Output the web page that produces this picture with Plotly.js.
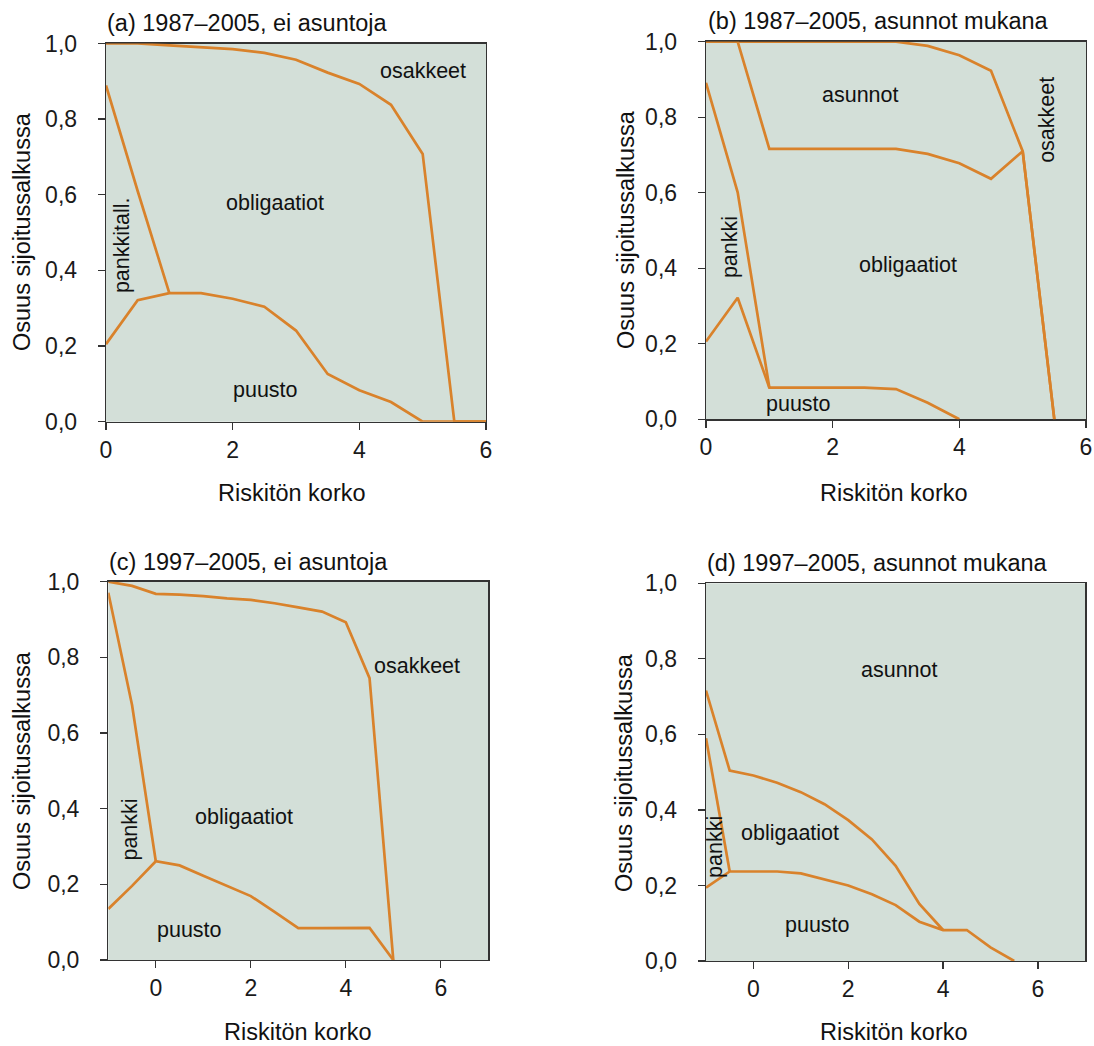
<!DOCTYPE html>
<html>
<head>
<meta charset="utf-8">
<script src="https://cdn.plot.ly/plotly-3.0.1.min.js"></script>
<style>
html,body{margin:0;padding:0;background:#ffffff;}
#chart{width:1094px;height:1046px;}
</style>
</head>
<body>
<div id="chart"></div>
<script>
// ---------- DATA (upper edges of the cumulative shares) ----------
// (a) 1987–2005, ei asuntoja
const xA = [0, 0.5, 1, 1.5, 2, 2.5, 3, 3.5, 4, 4.5, 5, 5.5, 6];
const aPuusto      = [0.205, 0.321, 0.340, 0.340, 0.325, 0.304, 0.241, 0.126, 0.083, 0.052, 0, 0, 0];
const aPankki      = [0.889, 0.610, 0.340, null, null, null, null, null, null, null, null, null, null];
const aObligaatiot = [1.000, 1.000, 0.995, 0.990, 0.985, 0.975, 0.957, 0.923, 0.893, 0.838, 0.708, 0, 0];

// (b) 1987–2005, asunnot mukana
const xB = [0, 0.5, 1, 1.5, 2, 2.5, 3, 3.5, 4, 4.5, 5, 5.5];
const bPuusto      = [0.206, 0.322, 0.084, 0.084, 0.084, 0.084, 0.080, 0.044, 0, null, null, null];
const bPankki      = [0.891, 0.601, 0.084, null, null, null, null, null, null, null, null, null];
const bObligaatiot = [1.000, 1.000, 0.716, 0.716, 0.716, 0.716, 0.716, 0.703, 0.678, 0.637, 0.710, 0];
const bAsunnot     = [1.000, 1.000, 1.000, 1.000, 1.000, 1.000, 1.000, 0.989, 0.964, 0.923, 0.710, 0];

// (c) 1997–2005, ei asuntoja
const xC = [-1, -0.5, 0, 0.5, 1, 1.5, 2, 2.5, 3, 3.5, 4, 4.5, 5];
const cPuusto      = [0.135, 0.196, 0.261, 0.250, 0.223, 0.196, 0.169, 0.127, 0.084, 0.084, 0.084, 0.085, 0];
const cPankki      = [0.971, 0.674, 0.261, null, null, null, null, null, null, null, null, null, null];
const cObligaatiot = [1.000, 0.989, 0.968, 0.966, 0.962, 0.956, 0.952, 0.943, 0.932, 0.921, 0.893, 0.745, 0];

// (d) 1997–2005, asunnot mukana
const xD = [-1, -0.5, 0, 0.5, 1, 1.5, 2, 2.5, 3, 3.5, 4, 4.5, 5, 5.5];
const dPuusto      = [0.194, 0.237, 0.237, 0.237, 0.232, 0.217, 0.200, 0.177, 0.148, 0.104, 0.082, 0.082, 0.036, 0];
const dPankki      = [0.590, 0.237, null, null, null, null, null, null, null, null, null, null, null, null];
const dObligaatiot = [0.716, 0.504, 0.491, 0.472, 0.447, 0.415, 0.373, 0.322, 0.252, 0.151, 0.082, null, null, null];

// ticks and texts
const yTicks = [0, 0.2, 0.4, 0.6, 0.8, 1.0];
const xTicks = [0, 2, 4, 6];
const panelTitles = ['(a) 1987–2005, ei asuntoja', '(b) 1987–2005, asunnot mukana',
                     '(c) 1997–2005, ei asuntoja', '(d) 1997–2005, asunnot mukana'];
const xTitle = 'Riskitön korko';
const yTitle = 'Osuus sijoitussalkussa';

// ---------- STYLE ----------
const W = 1094, H = 1046;
const FONT = 'Liberation Sans, Arial, Helvetica, sans-serif';
const ORANGE = '#d9822b';
const BG = '#d3dfd8';
const px = v => v / W;
const py = v => 1 - v / H;

function line(x, y, xa, ya) {
  return {x: x, y: y, xaxis: xa, yaxis: ya, type: 'scatter', mode: 'lines',
          line: {color: ORANGE, width: 2.7}, connectgaps: false,
          hoverinfo: 'skip', showlegend: false};
}

const traces = [
  line(xA, aPuusto, 'x', 'y'), line(xA, aPankki, 'x', 'y'), line(xA, aObligaatiot, 'x', 'y'),
  line(xB, bPuusto, 'x2', 'y2'), line(xB, bPankki, 'x2', 'y2'), line(xB, bObligaatiot, 'x2', 'y2'), line(xB, bAsunnot, 'x2', 'y2'),
  line(xC, cPuusto, 'x3', 'y3'), line(xC, cPankki, 'x3', 'y3'), line(xC, cObligaatiot, 'x3', 'y3'),
  line(xD, dPuusto, 'x4', 'y4'), line(xD, dPankki, 'x4', 'y4'), line(xD, dObligaatiot, 'x4', 'y4')
];

const axBase = {
  showgrid: false, zeroline: false, showline: true, linecolor: '#333333', linewidth: 1.3,
  mirror: true, ticks: 'outside', ticklen: 7, tickwidth: 1.3, tickcolor: '#333333',
  tickfont: {family: FONT, size: 23, color: '#1a1a1a'}, layer: 'below traces', fixedrange: true
};
function xax(domain, range, anchor) {
  return Object.assign({}, axBase, {domain: domain, range: range, anchor: anchor,
    tickmode: 'array', tickvals: xTicks, ticktext: xTicks.map(String)});
}
function yax(domain, anchor) {
  return Object.assign({}, axBase, {domain: domain, range: [0, 1], anchor: anchor,
    tickmode: 'array', tickvals: yTicks, tickformat: '.1f', ticklabelstandoff: 16});
}

const annFont = {family: FONT, size: 21.5, color: '#111111'};
const bigFont = {family: FONT, size: 23.5, color: '#111111'};
function lab(text, xref, yref, x, y, rot) {
  return {text: text, xref: xref, yref: yref, x: x, y: y, showarrow: false,
          font: annFont, textangle: rot || 0, xanchor: 'center', yanchor: 'middle'};
}
function pap(text, x, y, opts) {
  return Object.assign({text: text, xref: 'paper', yref: 'paper', x: px(x), y: py(y),
          showarrow: false, font: bigFont, xanchor: 'center', yanchor: 'middle'}, opts || {});
}

const annotations = [
  // panel titles
  pap(panelTitles[0], 105, 23, {xanchor: 'left'}),
  pap(panelTitles[1], 706, 21, {xanchor: 'left'}),
  pap(panelTitles[2], 107, 562, {xanchor: 'left'}),
  pap(panelTitles[3], 705, 563, {xanchor: 'left'}),
  // axis titles
  pap(xTitle, 292, 493), pap(xTitle, 894, 493), pap(xTitle, 298, 1032), pap(xTitle, 894, 1032),
  pap(yTitle, 22, 232, {textangle: -90}), pap(yTitle, 626, 230, {textangle: -90}),
  pap(yTitle, 22, 771, {textangle: -90}), pap(yTitle, 624, 772, {textangle: -90}),
  // region labels
  lab('osakkeet', 'x', 'y', 5.005, 0.928), lab('obligaatiot', 'x', 'y', 2.669, 0.579),
  lab('pankkitall.', 'x', 'y', 0.253, 0.467, -90), lab('puusto', 'x', 'y', 2.526, 0.084),
  lab('asunnot', 'x2', 'y2', 2.447, 0.859), lab('obligaatiot', 'x2', 'y2', 3.19, 0.409),
  lab('osakkeet', 'x2', 'y2', 5.384, 0.793, -90), lab('pankki', 'x2', 'y2', 0.379, 0.456, -90),
  lab('puusto', 'x2', 'y2', 1.468, 0.0405),
  lab('osakkeet', 'x3', 'y3', 5.504, 0.777), lab('obligaatiot', 'x3', 'y3', 1.859, 0.378),
  lab('pankki', 'x3', 'y3', -0.549, 0.344, -90), lab('puusto', 'x3', 'y3', 0.718, 0.079),
  lab('asunnot', 'x4', 'y4', 3.078, 0.770), lab('obligaatiot', 'x4', 'y4', 0.775, 0.339),
  lab('pankki', 'x4', 'y4', -0.809, 0.302, -90), lab('puusto', 'x4', 'y4', 1.346, 0.095)
];

const layout = {
  width: W, height: H,
  margin: {l: 0, r: 0, t: 0, b: 0, pad: 0},
  paper_bgcolor: '#ffffff', plot_bgcolor: BG,
  separators: ',.',
  showlegend: false,
  font: {family: FONT, size: 23, color: '#111111'},
  xaxis:  xax([px(106), px(486)], [0, 6], 'y'),
  yaxis:  yax([py(421.7), py(43.5)], 'x'),
  xaxis2: xax([px(706), px(1086)], [0, 6], 'y2'),
  yaxis2: yax([py(419.3), py(41.7)], 'x2'),
  xaxis3: xax([px(108.3), px(488.3)], [-1, 7], 'y3'),
  yaxis3: yax([py(960), py(581.7)], 'x3'),
  xaxis4: xax([px(706), px(1085.3)], [-1, 7], 'y4'),
  yaxis4: yax([py(961), py(583.3)], 'x4'),
  annotations: annotations
};

Plotly.newPlot('chart', traces, layout, {displayModeBar: false, staticPlot: true});
</script>
</body>
</html>
